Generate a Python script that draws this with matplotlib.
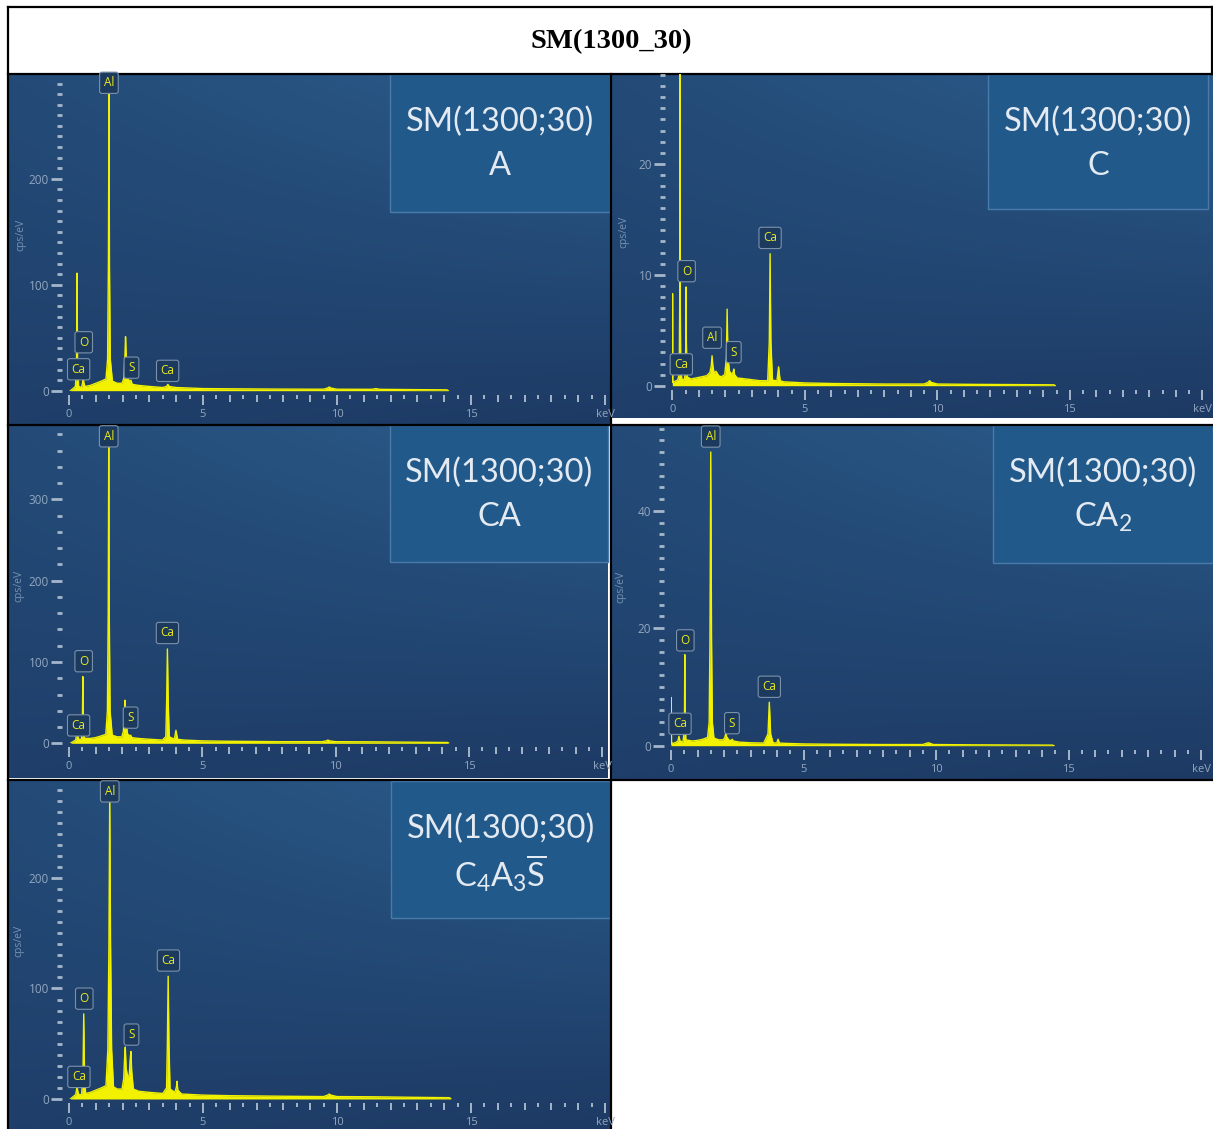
import numpy as np
import matplotlib.pyplot as plt
from matplotlib.patches import Rectangle
from matplotlib.ticker import MultipleLocator, FixedLocator

W, H = 1213, 1129

# --- данные ---
title = 'SM(1300_30)'
sample = 'SM(1300;30)'
phases = ['A', 'C', 'CA', r'$\mathregular{CA_2}$', r'$\mathregular{C_4A_3\overline{S}}$']
peak_names = ['Ca', 'O', 'Al', 'S', 'Ca']
x_ticks = [0, 5, 10, 15, 20]
x_ticklabels = ['0', '5', '10', '15', 'keV']

# спектры: (keV, cps/eV)
spec_a = [(0.05, 0), (0.15, 2), (0.24, 4), (0.28, 25), (0.30, 111), (0.32, 25), (0.36, 4),
          (0.47, 3), (0.51, 8), (0.53, 20), (0.55, 8), (0.59, 4), (0.8, 5), (1.0, 7), (1.2, 9),
          (1.38, 11), (1.44, 30), (1.47, 120), (1.49, 280), (1.51, 120), (1.54, 30), (1.62, 9),
          (1.8, 7), (1.98, 7), (2.05, 12), (2.09, 35), (2.11, 51), (2.14, 30), (2.19, 12),
          (2.27, 8), (2.31, 10), (2.36, 6), (2.6, 5), (3.0, 4), (3.5, 3), (3.64, 4), (3.69, 6),
          (3.74, 4), (4.0, 3), (5.0, 2), (6.0, 1.8), (8.0, 1.5), (9.5, 1.4), (9.65, 2.5),
          (9.71, 3.5), (9.77, 2.5), (10.0, 1.4), (11.3, 1.3), (11.45, 2), (11.6, 1.3),
          (13.0, 1), (14.1, 0.8), (14.15, 0)]
spec_c = [(0.0, 0.3), (0.01, 8.3), (0.02, 0.5), (0.04, 0.3), (0.1, 0.4), (0.2, 0.5),
          (0.26, 1), (0.28, 8), (0.29, 29), (0.30, 8), (0.32, 1.5), (0.36, 0.6), (0.45, 0.5),
          (0.49, 1.2), (0.51, 4), (0.52, 8.9), (0.53, 4), (0.56, 0.8), (0.7, 0.6), (0.9, 0.7),
          (1.1, 0.8), (1.3, 0.9), (1.42, 1.2), (1.47, 1.8), (1.50, 2.7), (1.53, 1.8),
          (1.58, 1.1), (1.65, 1.3), (1.75, 0.9), (1.85, 0.8), (1.98, 1.0), (2.04, 2.5),
          (2.07, 6.9), (2.10, 2.5), (2.16, 1.3), (2.25, 1.0), (2.29, 1.2), (2.32, 1.5),
          (2.35, 1.0), (2.45, 0.7), (2.8, 0.6), (3.3, 0.45), (3.6, 0.45), (3.66, 4),
          (3.69, 11.9), (3.72, 4), (3.78, 0.5), (3.95, 0.45), (4.01, 1.7), (4.07, 0.45),
          (4.2, 0.35), (5.0, 0.25), (6.0, 0.2), (8.0, 0.15), (9.5, 0.15), (9.65, 0.3),
          (9.71, 0.45), (9.77, 0.3), (10.0, 0.15), (11.4, 0.12), (13.0, 0.1), (14.4, 0.08),
          (14.45, 0)]
spec_ca = [(0.05, 0), (0.15, 2), (0.25, 4), (0.28, 10), (0.30, 18), (0.32, 10), (0.36, 5),
           (0.47, 5), (0.50, 25), (0.52, 82), (0.54, 25), (0.58, 6), (0.8, 6), (1.0, 7),
           (1.2, 9), (1.38, 11), (1.44, 40), (1.47, 160), (1.49, 365), (1.51, 160), (1.54, 40),
           (1.62, 10), (1.8, 8), (1.98, 8), (2.04, 15), (2.08, 40), (2.10, 53), (2.13, 30),
           (2.19, 12), (2.27, 9), (2.31, 10), (2.36, 7), (2.6, 6), (3.0, 5), (3.5, 4),
           (3.63, 8), (3.66, 50), (3.69, 116), (3.72, 50), (3.76, 8), (3.95, 5), (4.01, 16),
           (4.07, 5), (4.3, 4), (5.0, 3), (6.0, 2.5), (8.0, 2), (9.5, 2), (9.65, 3), (9.71, 4),
           (9.77, 3), (10.0, 2), (11.4, 1.8), (13.0, 1.3), (14.2, 1), (14.25, 0)]
spec_ca2 = [(0.0, 0.2), (0.01, 8.2), (0.02, 0.5), (0.1, 0.4), (0.2, 0.6), (0.26, 0.8),
            (0.30, 1.6), (0.34, 0.8), (0.45, 0.6), (0.49, 2), (0.51, 6), (0.52, 15.5),
            (0.53, 6), (0.56, 1), (0.8, 0.8), (1.0, 0.9), (1.2, 1.1), (1.38, 1.4), (1.44, 4),
            (1.47, 18), (1.50, 50), (1.53, 18), (1.56, 4), (1.62, 1.3), (1.8, 1), (1.98, 1.0),
            (2.04, 1.5), (2.07, 2.2), (2.10, 1.5), (2.2, 0.9), (2.28, 0.9), (2.31, 1.1),
            (2.35, 0.8), (2.6, 0.6), (3.0, 0.5), (3.5, 0.45), (3.66, 2), (3.71, 7.4),
            (3.76, 2), (3.85, 0.5), (3.99, 0.45), (4.04, 1.1), (4.09, 0.45), (4.3, 0.4),
            (5.0, 0.3), (6.0, 0.25), (8.0, 0.2), (9.5, 0.2), (9.71, 0.5), (9.9, 0.2),
            (11.4, 0.15), (13.0, 0.12), (14.4, 0.1), (14.45, 0)]
spec_c4 = [(0.05, 0), (0.15, 2), (0.25, 4), (0.28, 8), (0.30, 12.7), (0.32, 8), (0.36, 4),
           (0.47, 4), (0.52, 20), (0.55, 77), (0.58, 20), (0.62, 5), (0.8, 6), (1.0, 8),
           (1.2, 10), (1.38, 12), (1.45, 45), (1.49, 140), (1.52, 280), (1.55, 140), (1.59, 45),
           (1.66, 11), (1.8, 9), (1.98, 9), (2.04, 18), (2.08, 40), (2.10, 47), (2.13, 28),
           (2.19, 20), (2.25, 22), (2.28, 35), (2.31, 43), (2.34, 25), (2.4, 9), (2.6, 7),
           (3.0, 6), (3.5, 5), (3.64, 10), (3.67, 50), (3.70, 111), (3.73, 50), (3.77, 9),
           (3.95, 6), (4.01, 11), (4.03, 16), (4.06, 8), (4.2, 4.5), (5.0, 3.5), (6.0, 3),
           (8.0, 2.5), (9.5, 2.2), (9.65, 3.5), (9.71, 4.5), (9.77, 3.5), (10.0, 2.2),
           (11.4, 2), (13.0, 1.5), (14.2, 1.2), (14.25, 0)]

# подписи пиков: энергия и уровень низа рамки
lab_kev_a = [0.36, 0.55, 1.49, 2.33, 3.68]
lab_cps_a = [9.5, 35, 280, 11, 8]
lab_kev_c = [0.34, 0.54, 1.50, 2.32, 3.69]
lab_cps_c = [0.9, 9.3, 3.3, 2.0, 12.3]
lab_kev_ca = [0.36, 0.55, 1.49, 2.31, 3.69]
lab_cps_ca = [8, 87, 363.6, 17.6, 121.7]
lab_kev_ca2 = [0.34, 0.54, 1.50, 2.30, 3.71]
lab_cps_ca2 = [1.8, 16, 50.7, 1.9, 8.1]
lab_kev_c4 = [0.37, 0.57, 1.52, 2.33, 3.71]
lab_cps_c4 = [9.7, 80.5, 268, 48, 115]

# --- оформление ---
tick_col = '#a5b6ca'
lab_col = '#93a7bf'
ylab_col = '#7892b0'
yellow = '#f2f200'
px = 0.72  # пиксели -> пункты при dpi=100

# геометрия панелей в пикселях
panels = [
    dict(spec=spec_a, lk=lab_kev_a, lc=lab_cps_a, bg=(8, 74, 610, 424), x0=69, x20=605,
         base=390.7, ymax=299, major=100, minor=10, box=(390, 74, 610, 212), ylab=(21, 235)),
    dict(spec=spec_c, lk=lab_kev_c, lc=lab_cps_c, bg=(612, 74, 1213, 418), x0=672.3, x20=1202.3,
         base=385.7, ymax=28.1, major=10, minor=1, box=(988, 74, 1208, 209), ylab=(624, 232)),
    dict(spec=spec_ca, lk=lab_kev_ca, lc=lab_cps_ca, bg=(8, 425, 608, 778), x0=69, x20=602.4,
         base=743.3, ymax=391.5, major=100, minor=20, box=(390, 425, 608, 562), ylab=(19, 586)),
    dict(spec=spec_ca2, lk=lab_kev_ca2, lc=lab_cps_ca2, bg=(612, 425, 1213, 780), x0=671, x20=1201,
         base=745.7, ymax=54.6, major=20, minor=2, box=(993, 425, 1213, 563), ylab=(621, 587)),
    dict(spec=spec_c4, lk=lab_kev_c4, lc=lab_cps_c4, bg=(8, 780, 610, 1129), x0=69, x20=605,
         base=1099, ymax=288.6, major=100, minor=10, box=(391, 781, 610, 918), ylab=(19, 941)),
]


def gradient(nx=120, ny=80):
    # четыре угла: светлее вверху справа, темнее внизу
    tl = np.array([36, 75, 120]) / 255
    tr = np.array([43, 92, 139]) / 255
    bl = np.array([31, 63, 106]) / 255
    br = np.array([29, 58, 100]) / 255
    u = np.linspace(0, 1, nx)[None, :, None]
    v = np.linspace(0, 1, ny)[:, None, None]
    top = tl * (1 - u) + tr * u
    bot = bl * (1 - u) + br * u
    return top * (1 - v) + bot * v


fig = plt.figure(figsize=(W / 100, H / 100), dpi=100)
fig.patch.set_facecolor('white')

# слой разметки в пикселях
lay = fig.add_axes([0, 0, 1, 1])
lay.set_axis_off()
for p in panels:
    x0, y0, x1, y1 = p['bg']
    lay.imshow(gradient(), extent=(x0, x1, y1, y0), aspect='auto', interpolation='bilinear')
    bx0, by0, bx1, by1 = p['box']
    lay.add_patch(Rectangle((bx0, by0), bx1 - bx0, by1 - by0, fc='#22598b', ec='#4a7aaa', lw=1))
lay.set_xlim(0, W)
lay.set_ylim(H, 0)

# рамка таблицы
lw_t = 1.6
lay.plot([8, W], [7, 7], color='black', lw=lw_t)
lay.plot([8, 8], [7, H], color='black', lw=lw_t)
lay.plot([W - 1, W - 1], [7, 74], color='black', lw=lw_t)
lay.plot([8, W], [74, 74], color='black', lw=lw_t)
lay.plot([610.5, 610.5], [74, H], color='black', lw=lw_t)
lay.plot([8, W], [424.5, 424.5], color='black', lw=lw_t)
lay.plot([8, W], [779.5, 779.5], color='black', lw=lw_t)
lay.text(611, 42, title, ha='center', va='center', fontsize=20.5, fontweight='bold',
         family='Liberation Serif')

for p, ph in zip(panels, phases):
    bx0, by0, bx1, by1 = p['box']
    cx = (bx0 + bx1) / 2
    lay.text(cx, by0 + 48, sample, ha='center', va='center', fontsize=23.5,
             family='Lato', color='#e4eaf1')
    lay.text(cx, by0 + 92, ph, ha='center', va='center', fontsize=23.5,
             family='Lato', color='#e4eaf1')
    lay.text(p['ylab'][0], p['ylab'][1], 'cps/eV', rotation=90, ha='center', va='center',
             fontsize=7.5, family='Open Sans', color=ylab_col)

for p in panels:
    top = p['bg'][1]
    rect = [p['x0'] / W, 1 - p['base'] / H, (p['x20'] - p['x0']) / W, (p['base'] - top) / H]

    # вспомогательные оси для коротких делений на половинах keV
    axh = fig.add_axes(rect)
    axh.patch.set_visible(False)
    for s in axh.spines.values():
        s.set_color('none')
    axh.spines['bottom'].set_position(('outward', 4 * px))
    axh.set_xlim(0, 20)
    axh.set_yticks([])
    axh.xaxis.set_major_locator(FixedLocator(np.arange(0.5, 20, 1)))
    axh.tick_params(axis='x', length=3.5 * px, width=1.4, color=tick_col, labelbottom=False)

    ax = fig.add_axes(rect)
    ax.patch.set_visible(False)
    for s in ax.spines.values():
        s.set_color('none')
    ax.spines['bottom'].set_position(('outward', 4 * px))
    ax.spines['left'].set_position(('outward', 7 * px))

    e = [q[0] for q in p['spec']]
    c = [q[1] for q in p['spec']]
    ax.fill_between(e, 0, c, color=yellow, lw=0)
    ax.plot(e, c, color=yellow, lw=1.0)

    ax.set_xlim(0, 20)
    ax.set_ylim(0, p['ymax'])
    ax.set_xticks(x_ticks)
    ax.set_xticklabels(x_ticklabels)
    ax.xaxis.set_minor_locator(MultipleLocator(1))
    ax.yaxis.set_major_locator(MultipleLocator(p['major']))
    ax.yaxis.set_minor_locator(MultipleLocator(p['minor']))
    ax.yaxis.set_major_formatter('{x:.0f}')
    ax.tick_params(axis='x', which='major', length=10 * px, width=1.4, color=tick_col,
                   labelcolor=lab_col, labelsize=8, pad=4 * px)
    ax.tick_params(axis='x', which='minor', length=7 * px, width=1.4, color=tick_col)
    ax.tick_params(axis='y', which='major', length=11 * px, width=2.0, color=tick_col,
                   labelcolor=lab_col, labelsize=8.5, pad=2 * px)
    ax.tick_params(axis='y', which='minor', length=5 * px, width=2.0, color=tick_col)
    for t in ax.get_xticklabels() + ax.get_yticklabels():
        t.set_family('Open Sans')

    for name, k, v in zip(peak_names, p['lk'], p['lc']):
        ax.annotate(name, xy=(k, v), xytext=(0, 3.5), textcoords='offset points',
                    ha='center', va='bottom', fontsize=8.5, color='#eaea1e',
                    family='Open Sans', annotation_clip=False,
                    bbox=dict(boxstyle='round,pad=0.35,rounding_size=0.2', fc='#1c3a5e',
                              ec='#7b91ab', lw=0.8))

fig.savefig('out.png', dpi=100)
